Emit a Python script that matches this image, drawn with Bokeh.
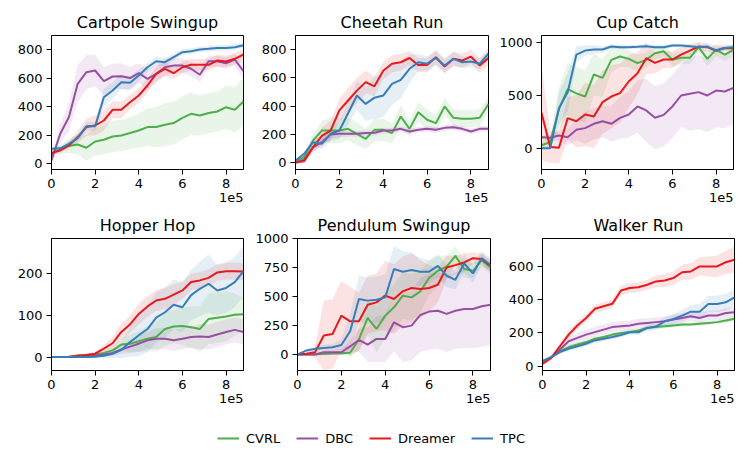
import numpy as np
from bokeh.plotting import figure
from bokeh.models import Range1d, FixedTicker, Legend, LegendItem, Title
from bokeh.layouts import column, row
from bokeh.embed import file_html
from bokeh.resources import INLINE

FONT = "DejaVu Sans"

# environment steps (x 1e5)
steps = [0.0, 0.4, 0.8, 1.2, 1.6, 2.0, 2.4, 2.8, 3.2, 3.6, 4.0, 4.4,
         4.8, 5.2, 5.6, 6.0, 6.4, 6.8, 7.2, 7.6, 8.0, 8.4, 8.8]

methods = ["CVRL", "DBC", "Dreamer", "TPC"]
colors = ["#4daf4a", "#984ea3", "#e41a1c", "#377eb8"]

# ---- Cartpole Swingup ----
cartpole_cvrl = [75, 100, 125, 135, 112, 156, 168, 191, 198, 215, 233, 257, 257, 273, 285, 322, 350, 338, 355, 366, 396, 378, 436]
cartpole_dbc = [25, 210, 327, 560, 641, 653, 578, 611, 613, 600, 634, 595, 630, 676, 688, 688, 665, 623, 718, 718, 704, 730, 648]
cartpole_dreamer = [75, 93, 128, 187, 257, 268, 303, 378, 378, 431, 478, 548, 630, 665, 634, 676, 693, 693, 693, 723, 716, 735, 765]
cartpole_tpc = [105, 108, 140, 180, 262, 262, 466, 513, 571, 567, 618, 676, 718, 711, 746, 781, 788, 800, 805, 811, 811, 816, 830]
cartpole_cvrl_sd = [20, 30, 50, 70, 90, 100, 100, 110, 110, 110, 120, 130, 140, 150, 150, 150, 150, 140, 140, 140, 150, 160, 170]
cartpole_dbc_sd = [20, 60, 100, 130, 120, 110, 100, 90, 90, 80, 70, 70, 60, 60, 50, 50, 50, 50, 40, 40, 40, 40, 60]
cartpole_dreamer_sd = [15, 20, 25, 40, 60, 70, 70, 60, 60, 50, 50, 50, 50, 50, 40, 40, 40, 40, 40, 40, 40, 40, 40]
cartpole_tpc_sd = [15, 15, 20, 25, 30, 30, 60, 60, 50, 50, 40, 30, 30, 30, 25, 20, 20, 20, 20, 20, 20, 20, 20]

# ---- Cheetah Run ----
cheetah_cvrl = [5, 40, 158, 228, 228, 228, 240, 205, 170, 233, 233, 210, 327, 240, 357, 304, 280, 398, 318, 311, 311, 318, 416]
cheetah_dbc = [5, 12, 110, 146, 200, 205, 205, 205, 210, 212, 228, 228, 240, 221, 233, 240, 233, 247, 252, 240, 221, 240, 240]
cheetah_dreamer = [0, 21, 110, 190, 228, 370, 440, 510, 570, 540, 650, 700, 710, 740, 690, 690, 745, 680, 735, 722, 750, 687, 740]
cheetah_tpc = [15, 64, 146, 134, 205, 228, 350, 475, 416, 460, 475, 558, 586, 664, 710, 700, 741, 687, 734, 710, 715, 700, 770]
cheetah_cvrl_sd = [10, 20, 40, 70, 90, 90, 80, 80, 70, 80, 80, 70, 80, 60, 70, 70, 60, 60, 60, 60, 60, 60, 50]
cheetah_dbc_sd = [10, 15, 30, 30, 30, 25, 20, 20, 20, 20, 20, 20, 20, 20, 20, 20, 20, 20, 20, 20, 20, 20, 20]
cheetah_dreamer_sd = [10, 20, 40, 60, 70, 80, 90, 90, 80, 70, 60, 60, 60, 50, 50, 50, 50, 50, 50, 50, 50, 50, 50]
cheetah_tpc_sd = [10, 20, 30, 40, 50, 60, 80, 100, 120, 150, 150, 150, 130, 100, 60, 50, 50, 50, 50, 40, 40, 40, 40]

# ---- Cup Catch ----
cup_cvrl = [25, 60, 370, 560, 520, 490, 700, 668, 839, 870, 848, 807, 839, 902, 921, 839, 858, 858, 959, 848, 934, 889, 934]
cup_dbc = [104, 98, 120, 104, 174, 190, 231, 256, 231, 288, 320, 396, 358, 288, 316, 396, 500, 516, 532, 500, 547, 538, 573]
cup_dreamer = [335, 10, 3, 285, 256, 320, 300, 437, 490, 522, 633, 712, 854, 810, 842, 842, 889, 927, 965, 959, 927, 952, 949]
cup_tpc = [0, 0, 380, 530, 889, 927, 937, 937, 965, 959, 959, 962, 968, 959, 959, 975, 975, 968, 959, 965, 927, 952, 959]
cup_cvrl_sd = [30, 50, 200, 250, 250, 250, 200, 180, 120, 100, 80, 80, 70, 60, 50, 60, 60, 60, 50, 70, 60, 60, 60]
cup_dbc_sd = [20, 30, 50, 80, 100, 150, 150, 150, 170, 200, 220, 250, 300, 300, 300, 300, 300, 350, 350, 350, 350, 350, 350]
cup_dreamer_sd = [450, 150, 150, 200, 250, 300, 300, 300, 300, 280, 250, 200, 150, 100, 80, 80, 70, 60, 40, 40, 40, 30, 30]
cup_tpc_sd = [5, 5, 150, 180, 80, 50, 40, 30, 20, 20, 20, 20, 20, 20, 20, 20, 20, 20, 20, 20, 20, 20, 20]

# ---- Hopper Hop ----
hopper_cvrl = [0, 0, 0, 4, 5, 6, 10, 16, 30, 32, 38, 44, 48, 67, 73, 74, 71, 67, 91, 94, 97, 101, 102]
hopper_dbc = [0, 0, 0, 0, 2, 4, 6, 10, 18, 25, 32, 40, 44, 44, 40, 44, 48, 49, 48, 54, 60, 65, 60]
hopper_dreamer = [0, 0, 1, 3, 5, 8, 20, 33, 60, 78, 103, 121, 135, 139, 149, 159, 179, 183, 189, 202, 205, 205, 204]
hopper_tpc = [0, 0, 0, 0, 0, 1, 3, 8, 17, 36, 52, 67, 94, 107, 125, 119, 148, 163, 175, 159, 165, 179, 205]
hopper_cvrl_sd = [0, 0, 1, 2, 3, 4, 6, 10, 15, 20, 25, 30, 35, 40, 40, 45, 50, 55, 60, 60, 60, 50, 40]
hopper_dbc_sd = [0, 0, 1, 2, 3, 4, 5, 8, 10, 15, 20, 20, 25, 25, 25, 25, 25, 30, 30, 30, 30, 30, 30]
hopper_dreamer_sd = [0, 0, 1, 2, 3, 5, 10, 15, 20, 20, 25, 25, 25, 25, 25, 20, 20, 20, 20, 20, 20, 20, 20]
hopper_tpc_sd = [0, 0, 0, 1, 1, 2, 5, 10, 20, 35, 50, 55, 60, 60, 60, 60, 60, 65, 70, 60, 60, 60, 60]

# ---- Pendulum Swingup ----
pendulum_cvrl = [0, 0, 2, 5, 10, 12, 15, 130, 316, 221, 336, 408, 509, 494, 546, 661, 724, 759, 853, 739, 724, 816, 753]
pendulum_dbc = [0, 0, 0, 20, 20, 20, 70, 126, 86, 135, 135, 279, 236, 250, 342, 371, 379, 351, 379, 394, 394, 417, 431]
pendulum_dreamer = [0, 6, 20, 164, 178, 336, 287, 287, 431, 451, 509, 480, 546, 575, 566, 575, 603, 753, 773, 796, 833, 825, 767]
pendulum_tpc = [0, 34, 49, 57, 63, 83, 201, 480, 466, 474, 494, 739, 716, 730, 716, 716, 767, 681, 646, 787, 701, 833, 776]
pendulum_cvrl_sd = [0, 5, 10, 10, 10, 15, 30, 100, 150, 200, 200, 200, 200, 200, 180, 150, 130, 100, 80, 80, 60, 60, 60]
pendulum_dbc_sd = [0, 5, 10, 15, 20, 30, 50, 100, 150, 200, 200, 250, 300, 300, 320, 330, 330, 330, 330, 340, 340, 350, 350]
pendulum_dreamer_sd = [0, 10, 50, 300, 300, 300, 300, 250, 250, 250, 300, 300, 300, 300, 250, 200, 150, 100, 80, 80, 50, 50, 50]
pendulum_tpc_sd = [0, 10, 20, 30, 30, 50, 150, 200, 200, 200, 200, 200, 180, 150, 120, 100, 100, 100, 80, 80, 80, 60, 60]

# ---- Walker Run ----
walker_cvrl = [30, 55, 90, 115, 130, 145, 165, 175, 190, 200, 205, 215, 230, 235, 240, 245, 250, 250, 255, 260, 265, 275, 285]
walker_dbc = [30, 50, 100, 150, 170, 190, 205, 220, 235, 240, 245, 255, 260, 265, 270, 280, 290, 300, 290, 305, 305, 320, 325]
walker_dreamer = [14, 50, 120, 190, 245, 290, 345, 360, 375, 455, 470, 475, 490, 510, 515, 530, 565, 570, 600, 600, 600, 625, 640]
walker_tpc = [30, 55, 85, 105, 120, 135, 155, 165, 175, 188, 204, 204, 230, 238, 270, 284, 304, 328, 328, 374, 374, 384, 414]
walker_cvrl_sd = [5, 8, 10, 12, 12, 12, 12, 12, 12, 12, 12, 12, 12, 12, 12, 12, 12, 12, 12, 12, 12, 15, 15]
walker_dbc_sd = [5, 10, 20, 25, 30, 30, 30, 30, 30, 30, 30, 30, 30, 30, 30, 30, 30, 30, 30, 30, 30, 30, 30]
walker_dreamer_sd = [10, 15, 20, 25, 25, 25, 25, 25, 25, 30, 30, 30, 30, 35, 40, 40, 45, 50, 55, 60, 65, 70, 80]
walker_tpc_sd = [5, 8, 10, 12, 15, 15, 15, 15, 15, 15, 15, 15, 20, 20, 25, 30, 35, 40, 45, 50, 50, 50, 50]

tasks = [
    ("Cartpole Swingup", [cartpole_cvrl, cartpole_dbc, cartpole_dreamer, cartpole_tpc],
     [cartpole_cvrl_sd, cartpole_dbc_sd, cartpole_dreamer_sd, cartpole_tpc_sd], (-40, 898), [0, 200, 400, 600, 800]),
    ("Cheetah Run", [cheetah_cvrl, cheetah_dbc, cheetah_dreamer, cheetah_tpc],
     [cheetah_cvrl_sd, cheetah_dbc_sd, cheetah_dreamer_sd, cheetah_tpc_sd], (-47, 899), [0, 200, 400, 600, 800]),
    ("Cup Catch", [cup_cvrl, cup_dbc, cup_dreamer, cup_tpc],
     [cup_cvrl_sd, cup_dbc_sd, cup_dreamer_sd, cup_tpc_sd], (-203, 1070), [0, 500, 1000]),
    ("Hopper Hop", [hopper_cvrl, hopper_dbc, hopper_dreamer, hopper_tpc],
     [hopper_cvrl_sd, hopper_dbc_sd, hopper_dreamer_sd, hopper_tpc_sd], (-32, 283), [0, 100, 200]),
    ("Pendulum Swingup", [pendulum_cvrl, pendulum_dbc, pendulum_dreamer, pendulum_tpc],
     [pendulum_cvrl_sd, pendulum_dbc_sd, pendulum_dreamer_sd, pendulum_tpc_sd], (-138, 1003), [0, 250, 500, 750, 1000]),
    ("Walker Run", [walker_cvrl, walker_dbc, walker_dreamer, walker_tpc],
     [walker_cvrl_sd, walker_dbc_sd, walker_dreamer_sd, walker_tpc_sd], (-26, 768), [0, 200, 400, 600]),
]

# column geometry: (frame_width, border_left, border_right)
cols = [(192, 51, 9), (193, 43, 8), (192, 44, 2)]
# row geometry: (frame_height, border_top, border_bottom)
rows_geo = [(134, 35, 39), (132, 30, 38)]


def make_panel(task, col, rg):
    title, means, sds, yr, yticks = task
    fw, bl, br = col
    fh, bt, bb = rg
    p = figure(frame_width=fw, frame_height=fh, x_range=Range1d(0, 8.8), y_range=Range1d(*yr),
               toolbar_location=None, output_backend="svg",
               min_border_left=bl, min_border_right=br,
               min_border_top=bt, min_border_bottom=bb)
    for m, s, c in zip(means, sds, colors):
        m = np.array(m, dtype=float)
        s = np.array(s, dtype=float)
        p.varea(x=steps, y1=m - s, y2=m + s, fill_color=c, fill_alpha=0.12)
    for m, c in zip(means, colors):
        p.line(x=steps, y=m, line_color=c, line_width=2)
    p.title.text = title
    p.title.align = "center"
    p.title.text_font = FONT
    p.title.text_font_size = "16px"
    p.title.text_font_style = "normal"
    p.title.text_color = "black"
    p.title.standoff = 7
    p.xgrid.visible = False
    p.ygrid.visible = False
    p.outline_line_color = "black"
    p.outline_line_alpha = 1
    p.outline_line_width = 1
    for ax in (p.xaxis[0], p.yaxis[0]):
        ax.major_label_text_font = FONT
        ax.major_label_text_font_size = "13px"
        ax.major_label_text_color = "black"
        ax.major_tick_out = 5
        ax.major_tick_in = 0
        ax.minor_tick_out = 0
        ax.minor_tick_in = 0
        ax.major_label_standoff = 4
        ax.axis_line_color = "black"
        ax.major_tick_line_color = "black"
    p.xaxis[0].ticker = FixedTicker(ticks=[0, 2, 4, 6, 8])
    p.yaxis[0].ticker = FixedTicker(ticks=yticks)
    p.add_layout(Title(text="1e5", align="right", text_font=FONT, text_font_size="13px",
                       text_font_style="normal", text_color="black", standoff=0), "below")
    return p


figs = []
for r in range(2):
    rowfigs = []
    for c in range(3):
        rowfigs.append(make_panel(tasks[r * 3 + c], cols[c], rows_geo[r]))
    figs.append(row(*rowfigs))

lf = figure(width=742, height=43, toolbar_location=None, output_backend="svg",
            x_range=Range1d(0, 1), y_range=Range1d(0, 1), min_border=0,
            x_axis_location=None, y_axis_location=None)
lf.outline_line_color = None
lf.xgrid.visible = False
lf.ygrid.visible = False
items = []
for name, c in zip(methods, colors):
    rr = lf.line(x=[-5, -4], y=[-5, -5], line_color=c, line_width=2)
    items.append(LegendItem(label=name, renderers=[rr]))
leg = Legend(items=items, orientation="horizontal", location="bottom_center",
             border_line_color=None, background_fill_alpha=0,
             label_text_font=FONT, label_text_font_size="13px", label_text_color="black",
             glyph_width=22, glyph_height=16, label_height=16, label_standoff=7,
             spacing=16, padding=0, margin=5)
lf.add_layout(leg, "center")

layout = column(figs[0], figs[1], lf)

with open("out.html", "w") as f:
    f.write(file_html(layout, INLINE))
